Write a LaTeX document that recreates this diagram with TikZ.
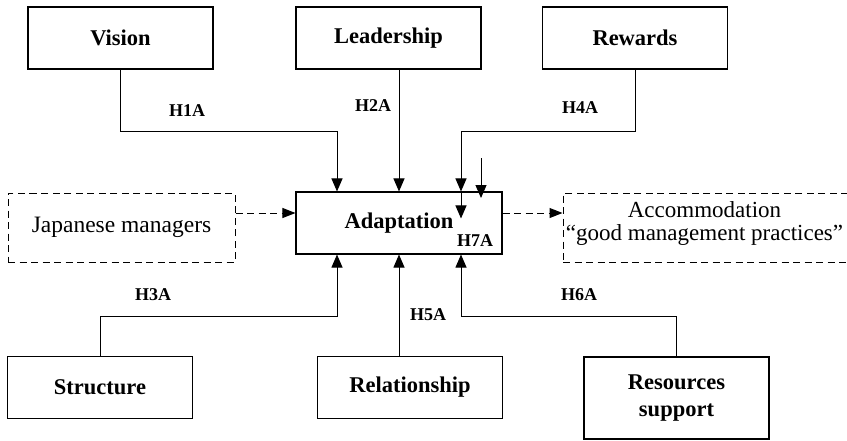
\documentclass[tikz,border=0pt]{standalone}
\usepackage{fontspec}
\setmainfont{Liberation Serif}
\usetikzlibrary{arrows.meta}

\tikzset{
  factor/.style={draw, line width=1.1pt, inner sep=0pt, minimum width=185pt,
    minimum height=62pt, align=center, font=\fontsize{22.5}{27}\selectfont\bfseries},
  dbox/.style={draw, dash pattern=on 7pt off 4.5pt, line width=1pt, inner sep=0pt,
    align=center, font=\fontsize{23.5}{23}\selectfont},
  hlabel/.style={inner sep=0pt, font=\fontsize{18}{20}\selectfont\bfseries},
  arr/.style={line width=1pt, -{Triangle[length=13pt,width=11pt]}},
  darr/.style={line width=1pt, dash pattern=on 7pt off 4.5pt,
    -{Triangle[length=13pt,width=10pt]}}
}

\begin{document}
\begin{tikzpicture}[x=1pt, y=-1pt]
\useasboundingbox (0,0) rectangle (847,440);

% top row of factors
\node[factor] (vision)     at (120.5,38) {Vision};
\node[factor] (leadership) at (388.5,38) {Leadership};
\node[factor] (rewards)    at (635,38)   {Rewards};

% central construct
\node[factor, minimum width=206pt] (adapt) at (399,223) {Adaptation};

% side boxes
\node[dbox, minimum width=227pt, minimum height=69pt] (japan) at (121.5,227.5) {Japanese managers};
\node[dbox, minimum width=292pt, minimum height=69pt] (accom) at (709,227.5) {};
\node[inner sep=0pt, align=center, font=\fontsize{23}{23}\selectfont] (accomtext) at (704.5,223.5)
  {Accommodation\\``good management practices''};

% bottom row of factors
\node[factor] (structure) at (100,387.5) {Structure};
\node[factor] (relation)  at (410,387.5) {Relationship};
\node[factor, minimum height=82pt] (resources) at (676.5,398) {Resources\\support};

% rails and entry points on the central box
\coordinate (toprail) at (0,131);
\coordinate (botrail) at (0,316);
\coordinate (dline)   at (0,213);
\coordinate (inV)  at ([xshift=-62pt]adapt.north);
\coordinate (inR)  at ([xshift=62pt]adapt.north);
\coordinate (inS)  at ([xshift=-62pt]adapt.south);
\coordinate (inRS) at ([xshift=62pt]adapt.south);
\coordinate (h7tip) at ([yshift=-27pt]inR);
\coordinate (ktop) at (481,158);
\coordinate (ktip) at (481,198);

% connectors from the top
\draw[arr] (vision.south) |- (inV |- toprail) -- (inV);
\draw[arr] (adapt.north |- leadership.south) -- (adapt.north);
\draw[arr] (rewards.south) |- (inR |- toprail) -- (inR);
\draw[arr] (inR) -- (h7tip);
\draw[arr] (ktop) -- (ktip);

% connectors from the bottom
\draw[arr] (structure.north) |- (inS |- botrail) -- (inS);
\draw[arr] (adapt.south |- relation.north) -- (adapt.south);
\draw[arr] (resources.north) |- (inRS |- botrail) -- (inRS);

% dashed links
\draw[darr] (japan.east |- dline) -- (adapt.west |- dline);
\draw[darr] (adapt.east |- dline) -- (accom.west |- dline);

% hypothesis labels
\node[hlabel] (h1) at (187,111) {H1A};
\node[hlabel] (h2) at (373,106) {H2A};
\node[hlabel] (h4) at (580,108) {H4A};
\node[hlabel] (h3) at (153,295) {H3A};
\node[hlabel] (h5) at (428,315) {H5A};
\node[hlabel] (h6) at (579,295) {H6A};
\node[hlabel] (h7) at (475,241) {H7A};
\end{tikzpicture}
\end{document}
